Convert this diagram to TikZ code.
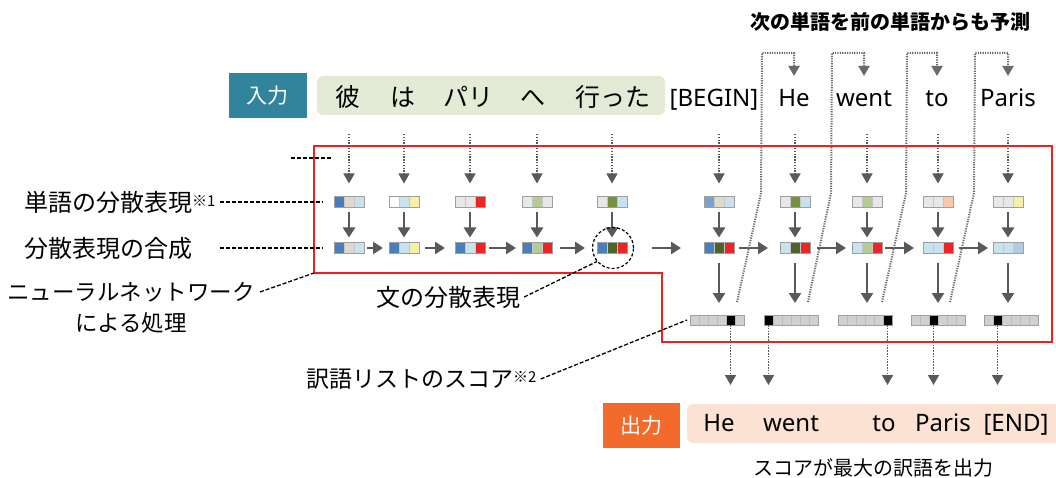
\documentclass[tikz,border=0pt]{standalone}
\usepackage{fontspec}
\setmainfont{Noto Sans CJK JP}
\newfontfamily\latinf{Noto Sans}
\usetikzlibrary{arrows.meta,calc}
\definecolor{tealbox}{HTML}{31849B}
\definecolor{greenbg}{HTML}{E3EAD6}
\definecolor{orangebox}{HTML}{F26B2C}
\definecolor{peachbg}{HTML}{FBE2D2}
\definecolor{arrowgray}{HTML}{595959}
\definecolor{cBlue}{HTML}{4A7EBB}
\definecolor{cSteel}{HTML}{7BA0C9}
\definecolor{cBeige}{HTML}{DDDACB}
\definecolor{cLBlue}{HTML}{C9E3EE}
\definecolor{cYel}{HTML}{F6F0A8}
\definecolor{cGray}{HTML}{E8E8E8}
\definecolor{cRed}{HTML}{EE2424}
\definecolor{cLGreen}{HTML}{B6CB91}
\definecolor{cOlive}{HTML}{76923C}
\definecolor{cDOlive}{HTML}{4F6228}
\definecolor{cPeach}{HTML}{F8C8A8}
\definecolor{cLSteel}{HTML}{B2C9E3}
\definecolor{scoregray}{HTML}{D0D0D0}
\definecolor{redline}{HTML}{F02020}

\newcommand{\tribox}[6]{%
  \node[trib] (#1) at (#2,#3) {};
  \node[tcell,fill=#4] (#1a) at (#2-10,#3) {};
  \node[tcell,fill=#5] (#1b) at (#2,#3) {};
  \node[tcell,fill=#6] (#1c) at (#2+10,#3) {};
  \draw[tborder] (#1.south west) rectangle (#1.north east);
}
\newcommand{\scorebox}[4]{%
  \node[sbox] (#1) at (#2,#3) {};
  \foreach \k in {1,...,6}{%
    \ifnum\k=#4\relax\def\cc{black}\else\def\cc{scoregray}\fi
    \node[scell,fill=\cc] (#1-\k) at ({#2+(\k-3.5)*9},#3) {};
  }%
  \draw[tborder] (#1.south west) rectangle (#1.north east);
}

\begin{document}
\begin{tikzpicture}[x=1pt,y=-1pt,
  trib/.style={minimum width=30pt,minimum height=11pt,inner sep=0pt,outer sep=0pt},
  tcell/.style={minimum width=10pt,minimum height=11pt,inner sep=0pt,outer sep=0pt,draw=gray!45,line width=0.6pt},
  sbox/.style={minimum width=54pt,minimum height=10pt,inner sep=0pt,outer sep=0pt},
  scell/.style={minimum width=9pt,minimum height=10pt,inner sep=0pt,outer sep=0pt,draw=gray!55,line width=0.6pt},
  tborder/.style={draw=gray!75,line width=1pt},
  solidarr/.style={draw=arrowgray,line width=2.8pt,-{Triangle[width=12pt,length=10pt]}},
  dotarr/.style={draw=arrowgray,line width=1.5pt,dash pattern=on 1.5pt off 1.3pt,-{Triangle[width=11pt,length=10pt]}},
  fbline/.style={draw=arrowgray!90,line width=2pt,dash pattern=on 1.2pt off 1.2pt,-{Triangle[width=11pt,length=10pt]}},
  lbl/.style={draw=black,line width=1.3pt,dash pattern=on 4pt off 2pt},
  lblbox/.style={text=white,minimum width=78pt,minimum height=45pt,inner sep=0pt,font=\fontsize{21}{24}\selectfont},
  jpw/.style={anchor=base,inner sep=0pt,font=\fontsize{25}{28}\selectfont},
  enw/.style={anchor=base,inner sep=0pt,font=\latinf\fontsize{24}{28}\selectfont},
  jl/.style={inner sep=0pt,font=\fontsize{24}{28}\selectfont},
  captxt/.style={inner sep=0pt,font=\fontsize{20}{24}\selectfont}
]
\useasboundingbox (0,0) rectangle (1056,478);

% title
\node[captxt,font=\fontsize{20}{24}\selectfont\bfseries] (title) at (890,22) {次の単語を前の単語からも予測};

% input row
\node[lblbox,fill=tealbox] (inlbl) at (267.5,95.5) {入力};
\node[fill=greenbg,rounded corners=6pt,minimum width=348pt,minimum height=39pt,inner sep=0pt] (inbg) at (491,95.5) {};
\node[jpw] (i1) at (348,107) {彼};
\node[jpw] (i2) at (403,107) {は};
\node[jpw] (i3) at (468,107) {パリ};
\node[jpw] (i4) at (533,107) {へ};
\node[jpw] (i5) at (613,107) {行った};
\node[enw] (i6) at (714,107) {[BEGIN]};
\node[enw] (i7) at (794,107) {He};
\node[enw] (i8) at (864,107) {went};
\node[enw] (i9) at (937,107) {to};
\node[enw] (i10) at (1008,107) {Paris};

% red region
\draw[redline,line width=1.8pt] (314,146) -- (1052,146) -- (1052,342) -- (662,342) -- (662,273) -- (314,273) -- cycle;

% word vectors
\tribox{w1}{349}{202}{cBlue}{cBeige}{cLBlue}
\tribox{w2}{404}{202}{white}{cLBlue}{cYel}
\tribox{w3}{470}{202}{cGray}{cGray}{cRed}
\tribox{w4}{537}{202}{cGray}{cLGreen}{cGray}
\tribox{w5}{612}{202}{cGray}{cOlive}{cLBlue}
\tribox{w6}{719}{202}{cSteel}{cBeige}{cLBlue}
\tribox{w7}{795}{202}{cGray}{cOlive}{cLBlue}
\tribox{w8}{867}{202}{cGray}{cLGreen}{cGray}
\tribox{w9}{938}{202}{cGray}{cGray}{cPeach}
\tribox{w10}{1008}{202}{cGray}{cGray}{cYel}

% composed vectors
\tribox{c1}{349}{248}{cBlue}{cBeige}{cLBlue}
\tribox{c2}{404}{248}{cBlue}{cLBlue}{cYel}
\tribox{c3}{470}{248}{cBlue}{cLBlue}{cRed}
\tribox{c4}{537}{248}{cBlue}{cLGreen}{cRed}
\tribox{c5}{612}{248}{cBlue}{cDOlive}{cRed}
\tribox{c6}{719}{248}{cBlue}{cDOlive}{cRed}
\tribox{c7}{795}{248}{cLBlue}{cDOlive}{cRed}
\tribox{c8}{867}{248}{cLBlue}{cLGreen}{cRed}
\tribox{c9}{938}{248}{cLBlue}{cLBlue}{cRed}
\tribox{c10}{1008}{248}{cLBlue}{cLBlue}{cLSteel}

% score vectors
\scorebox{s6}{717}{320}{5}
\scorebox{s7}{791}{320}{1}
\scorebox{s8}{865}{320}{6}
\scorebox{s9}{938}{320}{3}
\scorebox{s10}{1011}{320}{2}

% input dotted arrows
\coordinate (intop) at (0,134);
\foreach \n in {1,...,10}{
  \draw[dotarr] (w\n.north |- intop) -- ([yshift=13pt]w\n.north);
  \draw[solidarr] ([yshift=-5pt]w\n.south) -- ([yshift=5pt]c\n.north);
}

% horizontal arrows
\draw[solidarr] ([xshift=3pt]c1.east) -- ([xshift=-6pt]c2.west);
\draw[solidarr] ([xshift=6pt]c2.east) -- ([xshift=-10pt]c3.west);
\draw[solidarr] ([xshift=4pt]c3.east) -- ([xshift=-6pt]c4.west);
\draw[solidarr] ([xshift=8pt]c4.east) -- ([xshift=-12pt]c5.west);
\draw[solidarr] ([xshift=25pt]c5.east) -- ([xshift=-23pt]c6.west);
\draw[solidarr] ([xshift=5pt]c6.east) -- ([xshift=-12pt]c7.west);
\draw[solidarr] ([xshift=7pt]c7.east) -- ([xshift=-6pt]c8.west);
\draw[solidarr] ([xshift=3pt]c8.east) -- ([xshift=-9pt]c9.west);
\draw[solidarr] ([xshift=6pt]c9.east) -- ([xshift=-5pt]c10.west);

% down to scores
\foreach \n in {6,...,10}{
  \draw[solidarr] ([yshift=-9pt]c\n.south) -- ($(c\n.south |- s\n.north)+(0,-12)$);
}

% feedback lines
\coordinate (fbtip) at (0,76);
\coordinate (fb6) at (737,302);
\coordinate (fb7) at (808,302);
\coordinate (fb8) at (882,302);
\coordinate (fb9) at (950,302);
\draw[fbline] (fb6) -- (761,193) -- (762,53) -| (i7 |- fbtip);
\draw[fbline] (fb7) -- (831,193) -- (832,53) -| (i8 |- fbtip);
\draw[fbline] (fb8) -- (906,193) -- (907,53) -| (i9 |- fbtip);
\draw[fbline] (fb9) -- (974,193) -- (975,53) -| (i10 |- fbtip);

% output arrows
\coordinate (outtip) at (0,385);
\draw[dotarr] (s6-5.south) -- (s6-5.south |- outtip);
\draw[dotarr] (s7-1.south) -- (s7-1.south |- outtip);
\draw[dotarr] (s8-6.south) -- (s8-6.south |- outtip);
\draw[dotarr] (s9-3.south) -- (s9-3.south |- outtip);
\draw[dotarr] (s10-2.south) -- (s10-2.south |- outtip);

% output row
\node[lblbox,fill=orangebox,minimum width=77pt] (outlbl) at (641.5,425.5) {出力};
\node[fill=peachbg,rounded corners=6pt,minimum width=378pt,minimum height=39pt,inner sep=0pt] (outbg) at (876,423.5) {};
\node[enw] (o1) at (719,431) {He};
\node[enw] (o2) at (791,431) {went};
\node[enw] (o3) at (884,431) {to};
\node[enw] (o4) at (943,431) {Paris};
\node[enw] (o5) at (1016,431) {[END]};
\node[captxt] (outcap) at (873,468) {スコアが最大の訳語を出力};

% left labels
\coordinate (st1) at (291,158);
\coordinate (st2) at (332,158);
\draw[lbl] (st1) -- (st2);
\node[jl,anchor=west] (l1) at (24,202) {単語の分散表現{\fontsize{15}{15}\selectfont\raisebox{5pt}{※1}}};
\draw[lbl] ([xshift=4pt]l1.east) -- ($(l1.east -| w1.west)+(-12,0)$);
\node[jl,anchor=west] (l2) at (24,248) {分散表現の合成};
\draw[lbl] ($(l2.east -| l1.east)+(4,0)$) -- ($(l2.east -| c1.west)+(-12,0)$);
\node[jl,font=\fontsize{22.5}{26}\selectfont] (l3) at (131,292) {ニューラルネットワーク};
\node[jl,font=\fontsize{22.5}{26}\selectfont] (l3b) at (131,323) {による処理};
\coordinate (redcorner) at (314,273);
\draw[lbl] ([xshift=5pt]l3.east) -- (redcorner);

% sentence representation
\node[draw=black,dash pattern=on 3pt off 2pt,line width=1.2pt,circle,minimum size=41pt,inner sep=0pt] (circ) at (613,248) {};
\node[jl] (bun) at (448,297) {文の分散表現};
\draw[lbl] ([xshift=4pt]bun.east) -- (circ.220);

% score label
\node[jl,anchor=west,font=\fontsize{23}{26}\selectfont] (sc) at (306,379) {訳語リストのスコア{\fontsize{15}{15}\selectfont\raisebox{5pt}{※2}}};
\draw[lbl] ([xshift=4pt]sc.east) -- ([xshift=-3pt]s6.west);
\end{tikzpicture}
\end{document}
